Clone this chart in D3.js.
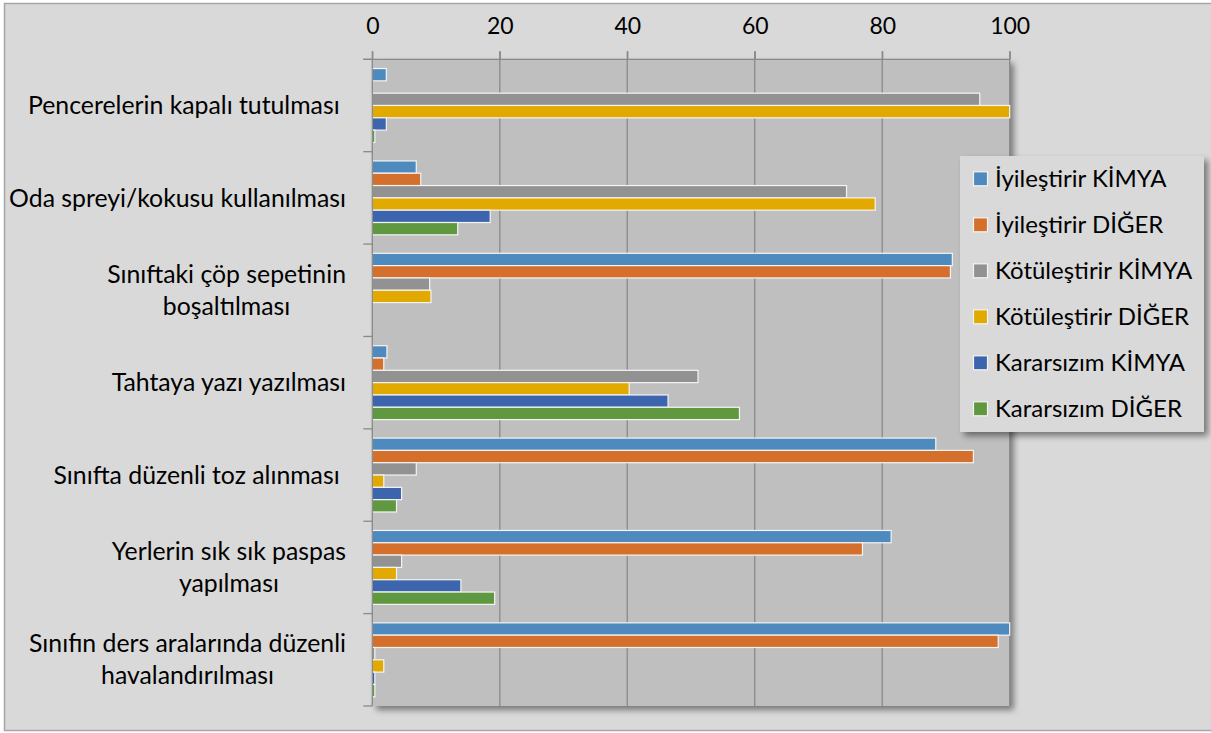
<!DOCTYPE html>
<html>
<head>
<meta charset="utf-8">
<script src="https://cdn.jsdelivr.net/npm/d3@7"></script>
<style>
  html, body { margin: 0; padding: 0; background: #ffffff; }
  svg { display: block; font-family: Lato, "Open Sans", sans-serif; }
  text { white-space: pre; }
</style>
</head>
<body>
<svg id="chart" width="1211" height="733"></svg>
<script>
// Categories (line breaks mark wrapped labels)
const categories = [
  "Pencerelerin kapalı tutulması ",
  "Oda spreyi/kokusu kullanılması",
  "Sınıftaki çöp sepetinin\nboşaltılması",
  "Tahtaya yazı yazılması",
  "Sınıfta düzenli toz alınması ",
  "Yerlerin sık sık paspas\nyapılması",
  "Sınıfın ders aralarında düzenli\nhavalandırılması"
];

const seriesNames = [
  "İyileştirir KİMYA",
  "İyileştirir DİĞER",
  "Kötüleştirir KİMYA",
  "Kötüleştirir DİĞER",
  "Kararsızım KİMYA",
  "Kararsızım DİĞER"
];

// One array per series, in category order
const iyilestirirKimya   = [2.2, 6.9, 91.0, 2.3, 88.4, 81.4, 100];
const iyilestirirDiger   = [0,   7.6, 90.7, 1.8, 94.3, 76.9, 98.2];
const kotulestirirKimya  = [95.3, 74.4, 9.0, 51.1, 6.9, 4.6, 0.4];
const kotulestirirDiger  = [100, 78.9, 9.2, 40.3, 1.8, 3.8, 1.8];
const kararsizimKimya    = [2.2, 18.5, 0, 46.4, 4.6, 13.9, 0.4];
const kararsizimDiger    = [0.4, 13.4, 0, 57.6, 3.8, 19.2, 0.4];

const seriesValues = [iyilestirirKimya, iyilestirirDiger, kotulestirirKimya,
                      kotulestirirDiger, kararsizimKimya, kararsizimDiger];

const xTicks = [0, 20, 40, 60, 80, 100];

const colors = ["#4e8abe", "#d56f2c", "#929292", "#e2a900", "#3d65ae", "#60983f"];

const svg = d3.select("#chart");

// Shadows for plot area and legend
const defs = svg.append("defs");
const sh = defs.append("filter").attr("id", "shadow")
  .attr("x", "-5%").attr("y", "-5%").attr("width", "115%").attr("height", "115%");
sh.append("feDropShadow").attr("dx", 4).attr("dy", 4).attr("stdDeviation", 3)
  .attr("flood-color", "#000").attr("flood-opacity", 0.45);

// Chart background and frame
svg.append("rect").attr("x", 0).attr("y", 0).attr("width", 1211).attr("height", 733)
  .attr("fill", "#ffffff");
svg.append("rect").attr("x", 4.5).attr("y", 3.5).attr("width", 1220).attr("height", 727)
  .attr("fill", "#d9d9d9").attr("stroke", "#a6a6a6").attr("stroke-width", 1.5);

const plot = { left: 372.3, right: 1009.7, top: 59.3, bottom: 706 };

const x = d3.scaleLinear().domain([0, 100]).range([plot.left, plot.right]);
const y0 = d3.scaleBand().domain(d3.range(categories.length))
  .range([plot.top, plot.bottom]).padding(0);
const y1 = d3.scaleBand().domain(d3.range(seriesNames.length))
  .range([0, y0.bandwidth()]).paddingInner(0).paddingOuter(0.75);

// Plot area
svg.append("rect")
  .attr("x", plot.left).attr("y", plot.top)
  .attr("width", plot.right - plot.left).attr("height", plot.bottom - plot.top)
  .attr("fill", "#bfbfbf").attr("filter", "url(#shadow)");

// Vertical gridlines
svg.append("g").selectAll("line").data(xTicks.filter(d => d > 0)).join("line")
  .attr("x1", d => x(d)).attr("x2", d => x(d))
  .attr("y1", plot.top - 8).attr("y2", plot.bottom)
  .attr("stroke", "#8a8a8a").attr("stroke-width", 1.3);

// Top value axis
const xAxis = svg.append("g").attr("transform", `translate(0,${plot.top})`)
  .call(d3.axisTop(x).tickValues(xTicks).tickSize(8).tickPadding(17));
xAxis.select(".domain").remove();
xAxis.selectAll(".tick line").attr("stroke", "#8a8a8a").attr("stroke-width", 1.3);
xAxis.selectAll(".tick text").attr("fill", "#000").attr("font-size", 23)
  .attr("font-family", "Lato, sans-serif");
svg.append("line").attr("x1", plot.left - 9).attr("x2", plot.right)
  .attr("y1", plot.top).attr("y2", plot.top)
  .attr("stroke", "#8a8a8a").attr("stroke-width", 1.3);

// Bars
const groups = svg.append("g").selectAll("g").data(categories).join("g")
  .attr("transform", (d, i) => `translate(0,${y0(i)})`);
groups.selectAll("rect")
  .data((d, i) => seriesValues.map((vals, s) => ({ s, v: vals[i] })))
  .join("rect")
  .filter(d => d.v > 0)
  .attr("x", x(0))
  .attr("y", d => y1(d.s))
  .attr("width", d => x(d.v) - x(0))
  .attr("height", y1.bandwidth())
  .attr("fill", d => colors[d.s])
  .attr("stroke", "#f4f4f4").attr("stroke-width", 1.2);

// Left category axis line and ticks
svg.append("line").attr("x1", plot.left).attr("x2", plot.left)
  .attr("y1", plot.top - 8).attr("y2", plot.bottom)
  .attr("stroke", "#8a8a8a").attr("stroke-width", 1.3);
svg.append("g").selectAll("line").data(d3.range(categories.length + 1)).join("line")
  .attr("x1", plot.left - 9).attr("x2", plot.left)
  .attr("y1", i => plot.top + i * y0.step()).attr("y2", i => plot.top + i * y0.step())
  .attr("stroke", "#8a8a8a").attr("stroke-width", 1.3);

// Category labels: centred block, right edge aligned next to the axis
const labelRight = 346;
const lineH = 32;
categories.forEach((c, i) => {
  const lines = c.split("\n");
  const cy = y0(i) + y0.bandwidth() / 2;
  const g = svg.append("g");
  const texts = lines.map((ln, k) => g.append("text")
    .attr("y", cy + (k - (lines.length - 1) / 2) * lineH)
    .attr("dy", "0.35em")
    .attr("text-anchor", "middle")
    .attr("font-size", 24.8).attr("fill", "#000")
    .text(ln));
  const w = d3.max(texts, t => t.node().getComputedTextLength());
  texts.forEach(t => t.attr("x", labelRight - w / 2));
});

// Legend
const lg = { x: 960, y: 156, w: 244, h: 276 };
svg.append("rect").attr("x", lg.x).attr("y", lg.y).attr("width", lg.w).attr("height", lg.h)
  .attr("fill", "#d9d9d9").attr("filter", "url(#shadow)");
const items = svg.append("g").selectAll("g").data(seriesNames).join("g")
  .attr("transform", (d, i) => `translate(${lg.x + 13},${lg.y + 22.3 + i * 46})`);
items.append("rect").attr("x", 0.5).attr("y", -6.5).attr("width", 14).attr("height", 14)
  .attr("fill", (d, i) => colors[i]).attr("stroke", "#f4f4f4").attr("stroke-width", 1.2);
items.append("text").attr("x", 22).attr("y", 0).attr("dy", "0.35em")
  .attr("font-size", 24).attr("fill", "#000").text(d => d);
</script>
</body>
</html>
